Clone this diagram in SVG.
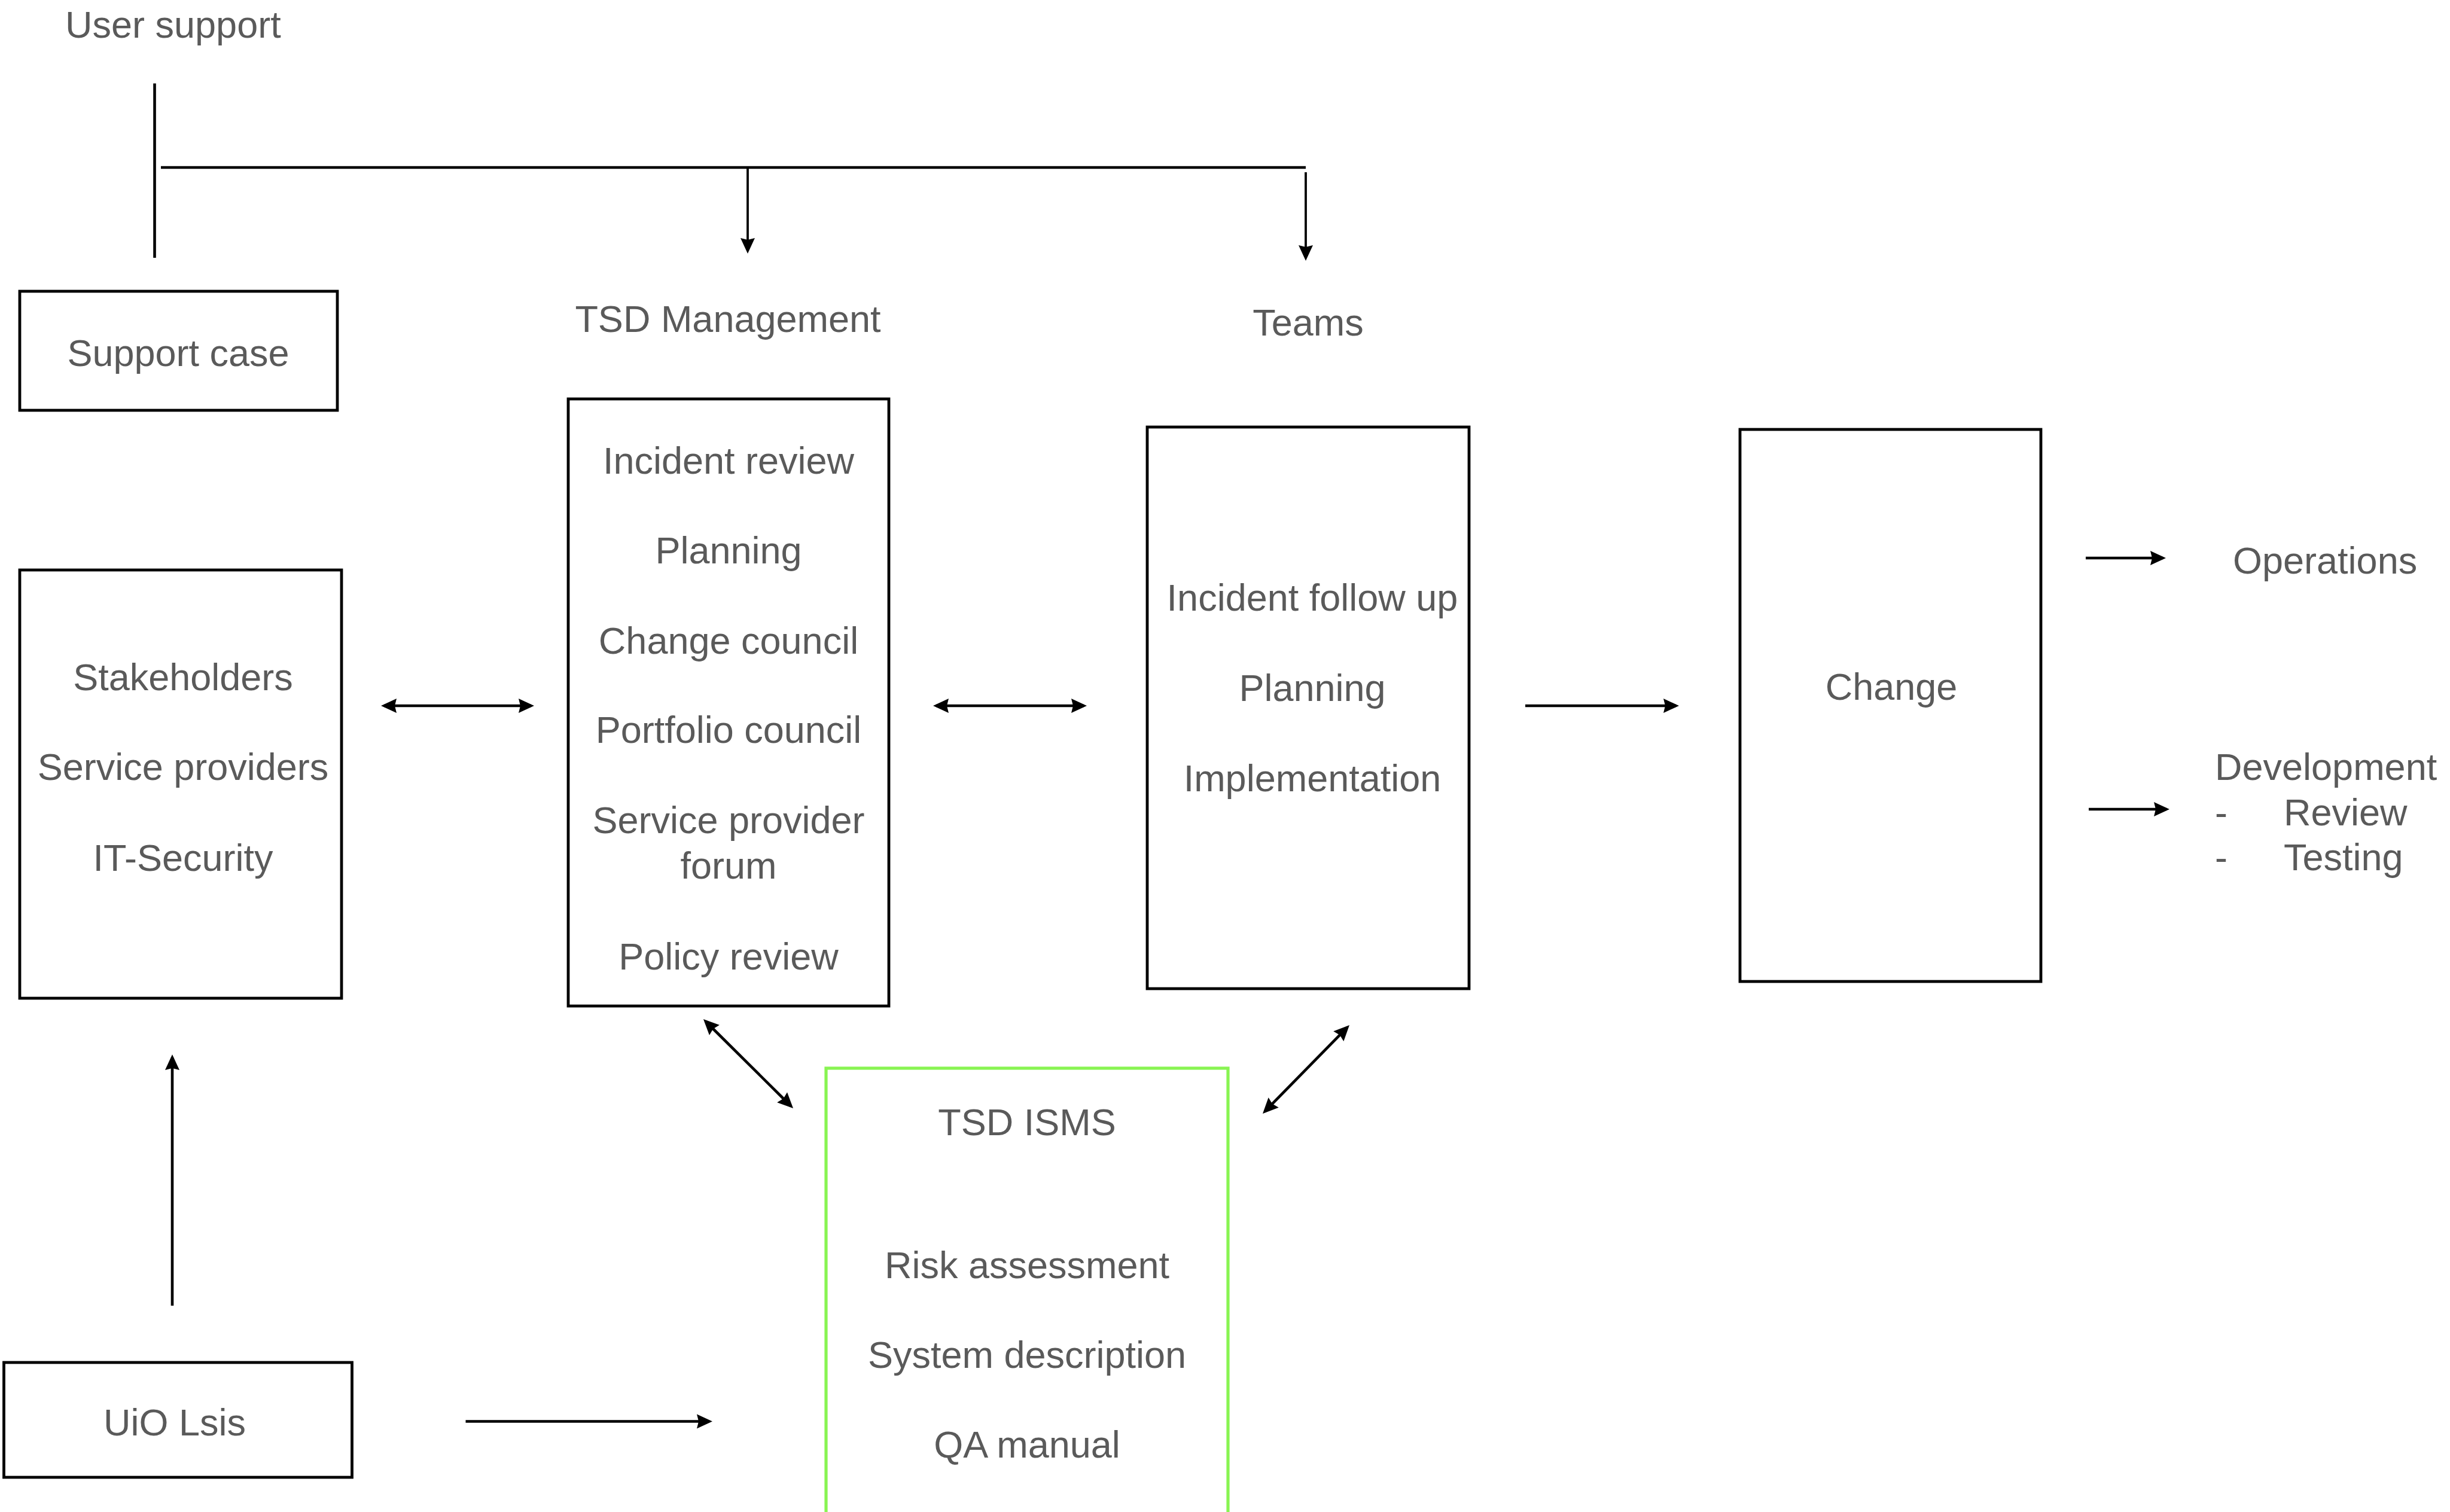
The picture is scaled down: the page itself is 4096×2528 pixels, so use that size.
<svg xmlns="http://www.w3.org/2000/svg" width="4096" height="2528" viewBox="0 0 4096 2528">
  <style>
    .box { fill: none; stroke: #000; stroke-width: 4.8; }
    .isms { fill: none; stroke: #88f452; stroke-width: 5.2; }
    .lbl { font-family: "Liberation Sans", Arial, Helvetica, sans-serif; font-size: 63px; fill: #5a5a5a; }
    .mid { text-anchor: middle; }
    .conn { fill: none; stroke: #000; stroke-width: 4.6; }
    .thin { stroke-width: 3.8; }
  </style>
  <defs>
    <marker id="head" markerUnits="userSpaceOnUse" markerWidth="28" markerHeight="26" refX="21" refY="12" orient="auto-start-reverse" overflow="visible">
      <path d="M0,0 L26,12 L0,24 L3,12 z" fill="#000"/>
    </marker>
  </defs>

  <rect width="4096" height="2528" fill="#fff"/>

  <!-- connectors -->
  <g id="connectors">
    <!-- user support distribution bar -->
    <line class="conn" x1="258.5" y1="139.5" x2="258.5" y2="431" stroke-width="5"/>
    <line class="conn" x1="269" y1="280" x2="2183" y2="280"/>
    <line class="conn thin" x1="1250" y1="278" x2="1250" y2="419" marker-end="url(#head)"/>
    <line class="conn thin" x1="2183" y1="288" x2="2183" y2="431" marker-end="url(#head)"/>
    <!-- stakeholders <-> management -->
    <line class="conn" x1="642" y1="1180" x2="888" y2="1180" marker-start="url(#head)" marker-end="url(#head)"/>
    <!-- management <-> teams -->
    <line class="conn" x1="1565" y1="1180" x2="1812" y2="1180" marker-start="url(#head)" marker-end="url(#head)"/>
    <!-- teams -> change -->
    <line class="conn" x1="2550" y1="1180" x2="2802" y2="1180" marker-end="url(#head)"/>
    <!-- change -> operations / development -->
    <line class="conn" x1="3487" y1="933" x2="3616" y2="933" marker-end="url(#head)"/>
    <line class="conn" x1="3492" y1="1353" x2="3622" y2="1353" marker-end="url(#head)"/>
    <!-- management <-> ISMS, teams <-> ISMS -->
    <line class="conn" x1="1179.5" y1="1707.5" x2="1322.5" y2="1849.5" marker-start="url(#head)" marker-end="url(#head)"/>
    <line class="conn" x1="2252.5" y1="1717.6" x2="2114.5" y2="1858.4" marker-start="url(#head)" marker-end="url(#head)"/>
    <!-- UiO Lsis -> stakeholders, UiO Lsis -> ISMS -->
    <line class="conn" x1="288" y1="2183" x2="288" y2="1768" marker-end="url(#head)"/>
    <line class="conn" x1="778.5" y1="2376.5" x2="1186" y2="2376.5" marker-end="url(#head)"/>
  </g>

  <g id="user-support">
    <text class="lbl" x="109" y="63">User support</text>
  </g>

  <g id="support-case">
    <rect class="box" x="33" y="487" width="531" height="199"/>
    <text class="lbl mid" x="298" y="612">Support case</text>
  </g>

  <g id="stakeholders">
    <rect class="box" x="33" y="953" width="538" height="716"/>
    <text class="lbl mid" x="306" y="1154">Stakeholders</text>
    <text class="lbl mid" x="306" y="1304">Service providers</text>
    <text class="lbl mid" x="306" y="1456">IT-Security</text>
  </g>

  <g id="tsd-management">
    <text class="lbl mid" x="1217" y="555">TSD Management</text>
    <rect class="box" x="950" y="667" width="536" height="1015"/>
    <text class="lbl mid" x="1218" y="792">Incident review</text>
    <text class="lbl mid" x="1218" y="942">Planning</text>
    <text class="lbl mid" x="1218" y="1093">Change council</text>
    <text class="lbl mid" x="1218" y="1242">Portfolio council</text>
    <text class="lbl mid" x="1218" y="1393">Service provider</text>
    <text class="lbl mid" x="1218" y="1469">forum</text>
    <text class="lbl mid" x="1218" y="1621">Policy review</text>
  </g>

  <g id="teams">
    <text class="lbl mid" x="2187" y="561">Teams</text>
    <rect class="box" x="1918" y="714" width="538" height="939"/>
    <text class="lbl mid" x="2194" y="1021">Incident follow up</text>
    <text class="lbl mid" x="2194" y="1172">Planning</text>
    <text class="lbl mid" x="2194" y="1323">Implementation</text>
  </g>

  <g id="change">
    <rect class="box" x="2909" y="718" width="503" height="923"/>
    <text class="lbl mid" x="3162" y="1170">Change</text>
  </g>

  <g id="operations">
    <text class="lbl" x="3733" y="959">Operations</text>
  </g>

  <g id="development">
    <text class="lbl" x="3703" y="1304">Development</text>
    <text class="lbl" x="3703" y="1380">-</text>
    <text class="lbl" x="3818" y="1380">Review</text>
    <text class="lbl" x="3703" y="1455">-</text>
    <text class="lbl" x="3818" y="1455">Testing</text>
  </g>

  <g id="tsd-isms">
    <rect class="isms" x="1381" y="1786" width="672" height="820"/>
    <text class="lbl mid" x="1717" y="1898">TSD ISMS</text>
    <text class="lbl mid" x="1717" y="2137">Risk assessment</text>
    <text class="lbl mid" x="1717" y="2287">System description</text>
    <text class="lbl mid" x="1717" y="2437">QA manual</text>
  </g>

  <g id="uio-lsis">
    <rect class="box" x="6.5" y="2278" width="582" height="192"/>
    <text class="lbl mid" x="292" y="2400">UiO Lsis</text>
  </g>
</svg>
